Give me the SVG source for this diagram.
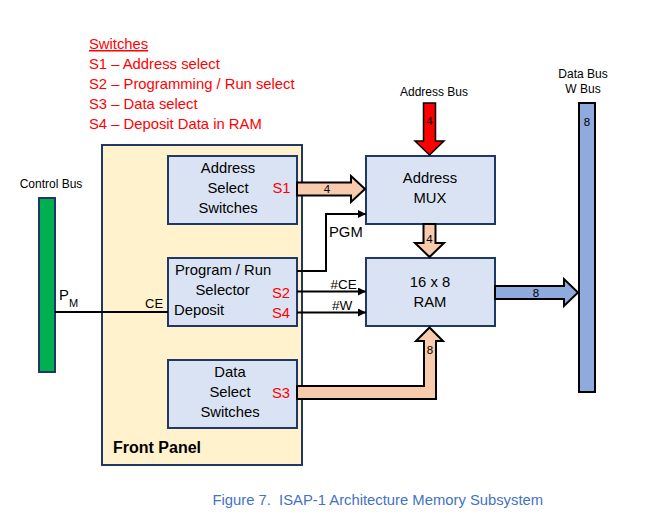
<svg xmlns="http://www.w3.org/2000/svg" width="661" height="525" viewBox="0 0 661 525">
<style>
text{font-family:"Liberation Sans",Arial,sans-serif;fill:#000}
.t{font-size:14.8px}
.s{font-size:12px}
.n{font-size:11.5px}
.r{fill:#FF0000}
.box{fill:#DAE3F3;stroke:#1F3864;stroke-width:2}
.ln{fill:none;stroke:#000;stroke-width:2}
.or{fill:#F8CBAD;stroke:#000;stroke-width:2;stroke-linejoin:miter}
.bl{fill:#8FAADC;stroke:#000;stroke-width:2}
.mid{text-anchor:middle}
</style>
<defs>
<marker id="ah" viewBox="0 0 10 10" refX="10" refY="5" markerWidth="9" markerHeight="8" markerUnits="userSpaceOnUse" orient="auto">
<path d="M0,0 L10,5 L0,10 z" fill="#000"/>
</marker>
</defs>
<rect width="661" height="525" fill="#fff"/>

<g id="legend">
<text class="t r" x="89" y="49" text-decoration="underline">Switches</text>
<text class="t r" x="89" y="68.5">S1 – Address select</text>
<text class="t r" x="89" y="88.5">S2 – Programming / Run select</text>
<text class="t r" x="89" y="108.5">S3 – Data select</text>
<text class="t r" x="89" y="128.5">S4 – Deposit Data in RAM</text>
</g>

<g id="front-panel">
<rect x="102" y="145" width="200" height="320" fill="#FFF2CC" stroke="#1F3864" stroke-width="2"/>
<text x="113" y="453" style="font-size:16px;font-weight:bold">Front Panel</text>
</g>

<g id="address-select">
<rect class="box" x="168" y="156" width="129" height="68"/>
<text class="t mid" x="228" y="172.5">Address</text>
<text class="t mid" x="228" y="192.5">Select</text>
<text class="t mid" x="228" y="212.5">Switches</text>
<text class="t r" x="272.5" y="192.5">S1</text>
</g>

<g id="program-run">
<rect class="box" x="168" y="258" width="129" height="68"/>
<text class="t" x="175" y="274.5">Program / Run</text>
<text class="t" x="195.5" y="294.5">Selector</text>
<text class="t" x="174" y="314.5">Deposit</text>
<text class="t r" x="272" y="297.5">S2</text>
<text class="t r" x="272" y="317.5">S4</text>
</g>

<g id="data-select">
<rect class="box" x="168" y="360" width="129" height="68"/>
<text class="t mid" x="230" y="377">Data</text>
<text class="t mid" x="230" y="397">Select</text>
<text class="t mid" x="230" y="417">Switches</text>
<text class="t r" x="272" y="397.5">S3</text>
</g>

<g id="address-mux">
<rect class="box" x="366" y="156" width="129" height="68"/>
<text class="t mid" x="430" y="182.5">Address</text>
<text class="t mid" x="430" y="202.5">MUX</text>
</g>

<g id="ram">
<rect class="box" x="366" y="258" width="129" height="68"/>
<text class="t mid" x="430" y="287">16 x 8</text>
<text class="t mid" x="430" y="307">RAM</text>
</g>

<g id="control-bus">
<rect x="39" y="198" width="16" height="174" fill="#00B050" stroke="#1F3864" stroke-width="2"/>
<text class="s mid" x="51" y="188">Control Bus</text>
</g>

<g id="data-bus">
<rect class="bl" x="579" y="103" width="16" height="289"/>
<text class="s mid" x="583" y="78">Data Bus</text>
<text class="s mid" x="583" y="93">W Bus</text>
<text class="n mid" x="587" y="125.5">8</text>
</g>

<g id="address-bus">
<text class="s mid" x="434" y="95.5">Address Bus</text>
</g>

<g id="connectors">
<polygon points="423.5,103 435.5,103 435.5,141 444,141 429.5,155 415,141 423.5,141" fill="#FF0000" stroke="#000" stroke-width="1.5"/>
<text class="n mid" x="429.5" y="125">4</text>

<polygon class="or" points="297,182.5 351,182.5 351,176 365,189 351,202 351,195.5 297,195.5"/>
<text class="n mid" x="327" y="193">4</text>

<polygon class="or" points="423.5,224 435.5,224 435.5,243 444,243 429.5,257 415,243 423.5,243"/>
<text class="n mid" x="429.5" y="243">4</text>

<polygon class="bl" points="495,286 564,286 564,279 578,292.5 564,306 564,299 495,299"/>
<text class="n mid" x="536" y="296.5">8</text>

<polygon class="or" points="297,386 424,386 424,341 416,341 429.5,327.5 443,341 436,341 436,399 297,399"/>
<text class="n mid" x="430" y="353.5">8</text>

<polyline class="ln" points="297,271 326,271 326,214 366,214" marker-end="url(#ah)"/>
<text class="t" x="329" y="237">PGM</text>
<line class="ln" x1="297" y1="291.5" x2="366" y2="291.5" marker-end="url(#ah)"/>
<text class="t" x="330.5" y="288.5" style="font-size:13.5px">#CE</text>
<line class="ln" x1="297" y1="312.5" x2="366" y2="312.5" marker-end="url(#ah)"/>
<text class="t" x="332" y="310" style="font-size:13.5px">#W</text>

<line class="ln" x1="55" y1="312" x2="168" y2="312"/>
<text class="t" x="59" y="299.5">P<tspan dy="7" style="font-size:11px">M</tspan></text>
<text class="t" x="145" y="308" style="font-size:13px">CE</text>
</g>

<text x="212.5" y="505" xml:space="preserve" style="font-size:14.8px;fill:#4472C4">Figure 7.  ISAP-1 Architecture Memory Subsystem</text>
</svg>
